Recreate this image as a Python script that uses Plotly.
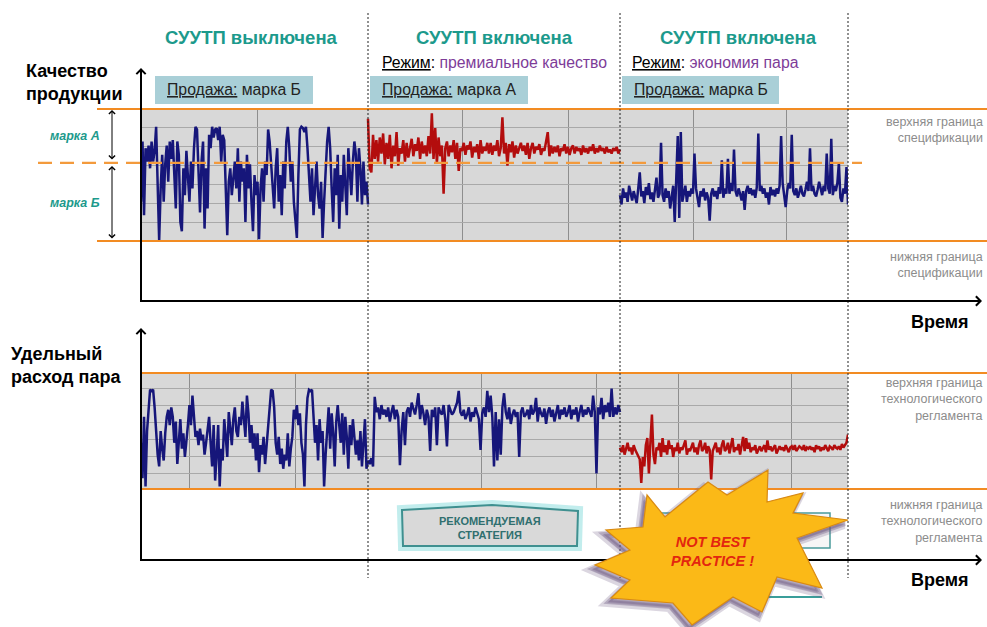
import numpy as np
import plotly.graph_objects as go

W, H = 987, 627

# ---------------- data ----------------
# time axis (arbitrary units) split into three regimes
seg_bounds = [0, 227, 479, 707]
grid_top_t = [116, 321, 427, 552, 645]
grid_bot_t = [48, 154, 340, 455, 537, 650]

spec_upper = 100
spec_lower = 0
grade_split = 59

# product quality (0 = lower spec limit, 100 = upper spec limit)
quality_apc_off = [30, 75, 20, 70, 60, 72, 55, 75, 60, 68, 86, 50, 1, 40, 65, 30, 58, 72, 45, 75,
                   62, 76, 44, 25, 75, 65, 15, 8, 55, 35, 68, 50, 30, 60, 40, 70, 86, 84, 45, 22,
                   60, 75, 10, 55, 25, 80, 70, 86, 78, 84, 85, 76, 86, 60, 80, 76, 40, 5, 45, 55,
                   35, 50, 60, 40, 70, 30, 60, 45, 55, 15, 65, 40, 58, 30, 8, 50, 35, 45, 2, 40,
                   55, 30, 60, 50, 84, 75, 60, 40, 25, 55, 70, 30, 50, 20, 60, 40, 75, 86, 70, 45,
                   60, 30, 15, 3, 50, 84, 86, 85, 82, 86, 70, 50, 30, 55, 20, 40, 60, 35, 25, 45,
                   3, 30, 60, 75, 86, 70, 40, 15, 55, 35, 65, 10, 50, 30, 65, 45, 20, 70, 55, 35,
                   60, 75, 65, 30, 70, 55, 28, 60, 35, 45, 28]
quality_premium = [92, 55, 52, 80, 62, 76, 60, 78, 66, 81, 58, 74, 62, 80, 55, 72, 64, 82, 57, 70,
                   66, 76, 60, 74, 63, 71, 77, 64, 73, 68, 78, 62, 75, 66, 72, 64, 79, 66, 96, 62,
                   85, 59, 78, 64, 72, 36, 70, 75, 64, 72, 67, 76, 62, 74, 53, 70, 68, 74, 65, 72,
                   69, 75, 63, 71, 67, 73, 62, 76, 66, 71, 68, 74, 66, 74, 65, 72, 68, 76, 64, 70,
                   93, 66, 74, 57, 73, 67, 75, 63, 72, 66, 70, 74, 68, 72, 65, 74, 62, 70, 74, 66,
                   71, 69, 73, 65, 70, 68, 75, 82, 64, 72, 66, 71, 67, 72, 64, 70, 68, 73, 66, 71,
                   65, 70, 72, 66, 71, 68, 70, 65, 72, 67, 70, 66, 71, 68, 73, 66, 70, 67, 72, 68,
                   70, 66, 71, 67, 69, 66, 70, 68, 71, 66, 69]
quality_economy = [35, 28, 40, 33, 37, 30, 42, 36, 31, 38, 34, 29, 40, 52, 34, 38, 29, 41, 35, 44,
                   32, 37, 30, 39, 48, 33, 36, 74, 35, 30, 40, 33, 38, 25, 36, 42, 15, 45, 79, 18,
                   82, 30, 36, 42, 30, 38, 34, 40, 36, 66, 40, 34, 26, 38, 34, 40, 31, 37, 33, 16,
                   36, 40, 34, 38, 32, 41, 36, 61, 33, 40, 36, 62, 36, 44, 38, 69, 38, 34, 40, 36,
                   31, 38, 24, 38, 42, 36, 40, 35, 39, 33, 41, 81, 38, 42, 36, 40, 33, 37, 28, 41,
                   35, 39, 34, 40, 36, 42, 79, 44, 35, 26, 38, 44, 40, 80, 38, 35, 40, 33, 37, 42,
                   36, 34, 39, 45, 38, 70, 38, 42, 36, 34, 39, 45, 40, 35, 42, 38, 66, 40, 36, 77,
                   35, 42, 38, 44, 59, 33, 30, 40, 36, 56, 28]

# specific steam consumption (0 = lower limit, 100 = upper limit of the regulation)
steam_apc_off = [40, 10, 62, 3, 50, 72, 85, 84, 85, 70, 45, 30, 20, 50, 35, 25, 48, 62, 68, 55,
                 70, 62, 40, 58, 22, 45, 60, 35, 48, 28, 40, 55, 72, 55, 80, 60, 45, 50, 38, 52,
                 42, 47, 30, 40, 50, 62, 40, 20, 55, 8, 30, 55, 3, 35, 25, 60, 45, 28, 66, 52,
                 38, 60, 70, 50, 45, 62, 55, 75, 58, 45, 80, 65, 40, 55, 35, 48, 25, 48, 15, 38,
                 30, 45, 22, 40, 55, 70, 85, 84, 70, 40, 30, 45, 22, 35, 18, 30, 25, 48, 20, 35,
                 45, 68, 60, 72, 55, 65, 40, 30, 3, 55, 78, 85, 84, 85, 65, 40, 55, 25, 60, 40,
                 50, 3, 30, 50, 70, 35, 65, 48, 20, 58, 72, 55, 40, 65, 30, 62, 45, 18, 55, 38,
                 60, 45, 30, 42, 25, 50, 20, 40, 60, 18, 25]
steam_premium = [25, 22, 27, 20, 79, 66, 70, 60, 72, 64, 68, 62, 70, 58, 66, 72, 60, 68, 62, 21,
                 50, 66, 38, 66, 70, 62, 74, 68, 64, 72, 82, 60, 72, 65, 55, 68, 62, 33, 68, 62,
                 70, 38, 70, 66, 64, 72, 60, 37, 72, 68, 64, 66, 70, 74, 84, 66, 63, 68, 60, 64,
                 70, 58, 66, 62, 70, 64, 60, 34, 65, 70, 62, 84, 66, 80, 62, 20, 66, 25, 60, 30,
                 70, 82, 66, 60, 70, 56, 64, 68, 62, 66, 28, 66, 70, 62, 64, 68, 60, 72, 64, 67,
                 78, 58, 70, 65, 62, 69, 56, 66, 70, 62, 68, 58, 66, 72, 60, 68, 64, 70, 62, 66,
                 72, 60, 68, 64, 70, 58, 66, 72, 62, 68, 64, 70, 66, 62, 80, 66, 14, 70, 64, 78,
                 60, 72, 66, 74, 62, 86, 62, 70, 64, 72, 66]
steam_economy = [36, 32, 38, 30, 35, 40, 33, 36, 30, 38, 34, 31, 28, 26, 6, 28, 20, 38, 44, 14,
                 40, 64, 30, 22, 36, 34, 40, 28, 44, 32, 38, 30, 42, 35, 38, 28, 36, 33, 40, 31,
                 36, 34, 38, 42, 30, 35, 33, 37, 40, 32, 36, 30, 38, 42, 33, 35, 40, 31, 37, 34,
                 9, 33, 37, 40, 32, 36, 30, 38, 42, 33, 35, 40, 31, 37, 44, 32, 36, 34, 39, 30,
                 36, 45, 33, 44, 35, 40, 32, 36, 34, 38, 31, 35, 37, 33, 36, 38, 32, 42, 34, 37,
                 33, 36, 38, 31, 35, 37, 34, 36, 33, 38, 35, 32, 36, 37, 34, 38, 33, 35, 37, 36,
                 34, 38, 33, 36, 35, 37, 34, 36, 32, 38, 35, 37, 33, 36, 34, 38, 35, 33, 37, 36,
                 34, 38, 36, 35, 37, 34, 39, 36, 38, 40, 47]

section_titles = ["СУУТП выключена", "СУУТП включена", "СУУТП включена"]
modes = [None, "премиальное качество", "экономия пара"]
sales = ["марка Б", "марка А", "марка Б"]

# ---------------- style ----------------
NAVY = "#16167a"
RED = "#b30d0d"
ORANGE = "#f28b22"
TEAL = "#1c9a8c"
PURPLE = "#7d3c98"
GREYTXT = "#8c8c8c"
FONT = "Liberation Sans, Arial, sans-serif"


def px(x):
    return x / W


def py(y):
    return 1 - y / H


def path(pts):
    return "M" + " L".join(f"{px(a):.5f},{py(b):.5f}" for a, b in pts) + " Z"


fig = go.Figure()

series = [
    (quality_apc_off, 0, NAVY, "x", "y"),
    (quality_premium, 1, RED, "x", "y"),
    (quality_economy, 2, NAVY, "x", "y"),
    (steam_apc_off, 0, NAVY, "x2", "y2"),
    (steam_premium, 1, NAVY, "x2", "y2"),
    (steam_economy, 2, RED, "x2", "y2"),
]
for vals, i, col, xa, ya in series:
    t = np.linspace(seg_bounds[i], seg_bounds[i + 1], len(vals))
    fig.add_trace(go.Scatter(x=t, y=vals, mode="lines", xaxis=xa, yaxis=ya,
                             line=dict(color=col, width=2.5), hoverinfo="skip",
                             showlegend=False))

xdom = [141 / W, 848 / W]
hgrid = [100 * k / 7 for k in range(1, 7)]
common_x = dict(domain=xdom, range=[seg_bounds[0], seg_bounds[-1]], showticklabels=False,
                ticks="", showgrid=True, gridcolor="#8e8e8e", gridwidth=1.3,
                zeroline=False, showline=False, fixedrange=True)
common_y = dict(range=[spec_lower, spec_upper], tickvals=hgrid, showticklabels=False, ticks="",
                showgrid=True, gridcolor="#a9a9a9", gridwidth=1, zeroline=False,
                showline=False, fixedrange=True)

shapes = []
# spec limit lines
shapes += [
    dict(type="line", xref="paper", yref="y", x0=px(97), x1=1.0, y0=spec_upper, y1=spec_upper,
         line=dict(color=ORANGE, width=4), layer="above"),
    dict(type="line", xref="paper", yref="y", x0=px(97), x1=1.0, y0=spec_lower, y1=spec_lower,
         line=dict(color=ORANGE, width=4), layer="above"),
    dict(type="line", xref="paper", yref="y2", x0=px(141), x1=1.0, y0=spec_upper, y1=spec_upper,
         line=dict(color=ORANGE, width=4), layer="above"),
    dict(type="line", xref="paper", yref="y2", x0=px(141), x1=1.0, y0=spec_lower, y1=spec_lower,
         line=dict(color=ORANGE, width=4), layer="above"),
    dict(type="line", xref="paper", yref="y", x0=px(38), x1=px(862), y0=grade_split, y1=grade_split,
         line=dict(color="#f39a3c", width=2.2, dash="14px,8px"), layer="above"),
]
# regime separators (dotted)
for xs in [368, 620, 848]:
    shapes.append(dict(type="line", xref="paper", yref="paper", x0=px(xs), x1=px(xs),
                       y0=py(13), y1=py(578), line=dict(color="#222222", width=1, dash="2px,2px"),
                       layer="above"))
# axis lines
for (x0, y0, x1, y1) in [(141, 302, 141, 74), (140, 301, 976, 301),
                         (141, 561, 141, 334), (140, 560, 976, 560)]:
    shapes.append(dict(type="line", xref="paper", yref="paper", x0=px(x0), y0=py(y0),
                       x1=px(x1), y1=py(y1), line=dict(color="black", width=2), layer="above"))
# sale boxes
for (x0, x1) in [(155, 313), (370, 528), (622, 779)]:
    shapes.append(dict(type="rect", xref="paper", yref="paper", x0=px(x0), x1=px(x1),
                       y0=py(104), y1=py(76), fillcolor="#a9cfd7", line=dict(width=0),
                       layer="above"))
# recommended strategy box (with glow)
house = [(402, 510), (492, 505), (578, 511), (577, 546), (403, 546)]
shapes.append(dict(type="path", xref="paper", yref="paper", path=path(house),
                   line=dict(color="rgba(120,215,215,0.45)", width=10), fillcolor="rgba(0,0,0,0)",
                   layer="above"))
shapes.append(dict(type="path", xref="paper", yref="paper", path=path(house),
                   line=dict(color="#3f9090", width=2), fillcolor="#d9d9d9", layer="above"))
# hidden box behind the star
shapes.append(dict(type="rect", xref="paper", yref="paper", x0=px(647), x1=px(830),
                   y0=py(548), y1=py(513), line=dict(color="#4a9a9a", width=1.5),
                   fillcolor="rgba(240,240,240,0.6)", layer="above"))
shapes.append(dict(type="line", xref="paper", yref="paper", x0=px(640), x1=px(822),
                   y0=py(597), y1=py(597), line=dict(color="#3a9e9a", width=2), layer="above"))
# star burst
star = [(647, 495), (665, 517), (708, 482), (727, 495), (768, 470), (767, 502), (803, 493),
        (793, 513), (848, 520), (797, 538), (822, 588), (777, 577), (762, 612), (733, 597),
        (692, 625), (673, 603), (611, 598), (630, 580), (595, 565), (630, 550), (606, 530),
        (643, 527)]
for dx, dy, op, w in [(-4, 5, 0.25, 8), (-3, 4, 0.35, 4)]:
    sh = [(a + dx, b + dy) for a, b in star]
    shapes.append(dict(type="path", xref="paper", yref="paper", path=path(sh),
                       fillcolor=f"rgba(110,90,130,{op})",
                       line=dict(color=f"rgba(110,90,130,{op})", width=w), layer="above"))
shapes.append(dict(type="path", xref="paper", yref="paper", path=path(star),
                   fillcolor="#fbb917", line=dict(color="#d98a12", width=1.2), layer="above"))

ann = []


def text(x, y, s, size, color="black", xanchor="center", bold=False, italic=False, align="center"):
    if bold:
        s = f"<b>{s}</b>"
    if italic:
        s = f"<i>{s}</i>"
    ann.append(dict(x=px(x), y=py(y), xref="paper", yref="paper", text=s, showarrow=False,
                    xanchor=xanchor, yanchor="middle", align=align,
                    font=dict(family=FONT, size=size, color=color)))


def arrow(xt, yt, ax, ay, width=2, head=4, size=0.9, both=False):
    d = dict(x=px(xt), y=py(yt), xref="paper", yref="paper", text="", showarrow=True,
             ax=ax, ay=ay, arrowhead=head, arrowsize=size, arrowwidth=width, arrowcolor="black")
    if both:
        d.update(arrowside="end+start", startarrowhead=head, startarrowsize=size)
    ann.append(d)


# section titles
for cx, s in zip([251, 494, 738], section_titles):
    text(cx, 37, s, 18.5, TEAL, bold=True)
for x0, m in zip([380, 630], modes[1:]):
    text(x0, 63, f"<u>Режим</u>: <span style='color:{PURPLE}'>{m}</span>", 15.8,
         xanchor="left")
for x0, s in zip([165, 380, 632], sales):
    text(x0, 90, f"<u>Продажа:</u> {s}", 15.8, "#222222", xanchor="left")

text(24, 83, "Качество<br>продукции", 18, bold=True, xanchor="left", align="left")
text(9, 365, "Удельный<br>расход пара", 18, bold=True, xanchor="left", align="left")
text(75, 136, "марка А", 12.5, TEAL, bold=True, italic=True)
text(75, 203, "марка Б", 12.5, TEAL, bold=True, italic=True)
text(940, 322, "Время", 18, bold=True)
text(940, 580, "Время", 18, bold=True)

text(985, 130, "верхняя граница<br>спецификации", 12.5, GREYTXT, xanchor="right", align="right")
text(985, 265, "нижняя граница<br>спецификации", 12.5, GREYTXT, xanchor="right", align="right")
text(985, 399, "верхняя граница<br>технологического<br>регламента", 12.5, GREYTXT,
     xanchor="right", align="right")
text(985, 521, "нижняя граница<br>технологического<br>регламента", 12.5, GREYTXT,
     xanchor="right", align="right")

text(490, 528, "РЕКОМЕНДУЕМАЯ<br>СТРАТЕГИЯ", 11, "#2f6f6f", bold=True)
text(712, 551, "NOT BEST<br>PRACTICE !", 14.5, "#e3260f", bold=True, italic=True)

# arrows
arrow(141, 68, 0, 16)
arrow(982, 301, -16, 0)
arrow(141, 328, 0, 16)
arrow(982, 560, -16, 0)
arrow(112, 110, 0, 51, width=1, head=4, size=1.2, both=True)
arrow(112, 166, 0, 74, width=1, head=4, size=1.2, both=True)

fig.update_layout(
    width=W, height=H, margin=dict(l=0, r=0, t=0, b=0),
    paper_bgcolor="white", plot_bgcolor="#d8d8d8",
    xaxis=dict(common_x, anchor="y", tickvals=grid_top_t),
    yaxis=dict(common_y, anchor="x", domain=[1 - 242 / H, 1 - 108 / H]),
    xaxis2=dict(common_x, anchor="y2", tickvals=grid_bot_t),
    yaxis2=dict(common_y, anchor="x2", domain=[1 - 490 / H, 1 - 372 / H]),
    shapes=shapes, annotations=ann, showlegend=False,
    font=dict(family=FONT),
)

fig.write_html("out.html", config={"displayModeBar": False},
               post_script="document.body.style.margin='0px';document.body.style.overflow='hidden';")
